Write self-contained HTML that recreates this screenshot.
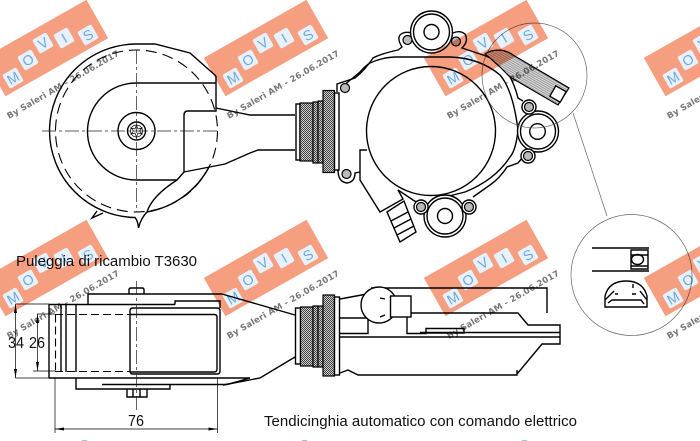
<!DOCTYPE html>
<html><head><meta charset="utf-8"><style>
html,body{margin:0;padding:0;background:#fff}
svg{display:block}
.l{fill:none;stroke:#000;stroke-width:1.4}
.w{fill:#fff;stroke:#000;stroke-width:1.4}
.t{fill:none;stroke:#000;stroke-width:.7}
.g{fill:none;stroke:#666;stroke-width:.7}
.d{fill:none;stroke:#000;stroke-width:1.1;stroke-dasharray:11 6}
.c{fill:none;stroke:#222;stroke-width:.7;stroke-dasharray:14 3 3 3}
.h{fill:url(#chk);stroke:#000;stroke-width:1.2}
.b{fill:#bbb;stroke:#000;stroke-width:1.2}
.lab{font-family:"Liberation Sans",sans-serif;font-size:15px;fill:#111}
.dim{font-family:"Liberation Sans",sans-serif;font-size:16px;fill:#111}
.bn{fill:#f59e80}
.tl{fill:#e6f1fb}
.lt{font-family:"Liberation Sans",sans-serif;font-size:14px;fill:#6fa8dc;text-anchor:middle}
.by{font-family:"DejaVu Sans",sans-serif;font-size:8.5px;font-weight:bold;fill:#777}
</style></head><body>
<svg width="700" height="441" viewBox="0 0 700 441" xmlns="http://www.w3.org/2000/svg">
<defs>
<pattern id="chk" width="2" height="2" patternUnits="userSpaceOnUse"><rect width="2" height="2" fill="#ccc"/><rect width="1" height="1" fill="#444"/><rect x="1" y="1" width="1" height="1" fill="#444"/></pattern>
<pattern id="ds" width="2" height="2" patternUnits="userSpaceOnUse" patternTransform="rotate(30)"><rect width="2" height="2" fill="#ddd"/><rect width="2" height="1" fill="#999"/></pattern>
</defs>

<!-- pulley -->
<path class="l" d="M216 76 L190 53 L155 44 L136 44 A87 87 0 0 0 49.500 131 A87 87 0 0 0 135 217.500 Q138 221 138.500 228 Q141 218 147 212 A87 87 0 0 0 209 167"/>
<path class="l" d="M147 212 Q152 196 177 180"/>
<path class="l" d="M97 211 L92 218 L103 213"/>
<circle class="d" cx="136.500" cy="131" r="81"/>
<path class="l" d="M216 83 H136 A48.500 48.500 0 0 0 136 180 H177 L184 172 V115 Q184 111 188 111 H216 V76"/>
<path class="l" d="M216 108 L250 115 H295 M184 172 L225 164 L250 153 L258 150 H295"/>
<circle class="l" cx="136.500" cy="131" r="18.500"/>
<circle class="l" cx="136.500" cy="131" r="9"/>
<circle class="t" cx="136.500" cy="131" r="6"/>
<path class="t" d="M136.500 125 L138 129 L142 128 L139.500 131 L142 134 L138 133 L136.500 137 L135 133 L131 134 L133.500 131 L131 128 L135 129 Z"/>
<path class="c" d="M42 131 H220 M136.500 50 V212"/>

<!-- top collar -->
<rect class="w" x="296" y="104" width="4" height="56"/>
<rect class="h" x="300" y="103" width="13" height="58"/>
<rect class="h" x="313" y="102" width="5" height="61"/>
<rect class="h" x="318" y="101" width="5" height="62"/>
<rect class="h" x="323" y="90.500" width="11.500" height="82"/>
<rect class="w" x="334.500" y="93" width="4.500" height="77"/>

<!-- housing -->
<circle class="l" cx="431" cy="131" r="64.500"/>
<path class="l" d="M337 92 L337 84 L355 78 Q365 70 373 58 Q380 54 398 50 L402 47 Q397 39 400 35 Q404 31 412 33"/>
<path class="l" d="M343 86 L360 72 Q365 66 370 63 Q383 57 397 57 H450 Q480 58 500 75 Q513 90 518 130 Q516 150 510 157 Q495 180 465 192 L445 197"/>
<path class="l" d="M453 33 Q460 30 465 34 Q469 41 462 48 L483 55 Q497 60 505 68 Q514 82 518 98 L523 101"/>
<path class="l" d="M523 157 L518 163 L507 167 Q500 178 490 185 L473 197"/>
<path class="l" d="M338 170 Q338 182 347 183 Q355 182 355 173 L360 172"/>
<path class="l" d="M398 190 L413 200 L418 203"/>
<circle class="w" cx="431.500" cy="32" r="21"/>
<circle class="l" cx="431.500" cy="32" r="18"/>
<circle class="l" cx="431.500" cy="32" r="7.500"/>
<circle class="b" cx="407.500" cy="40" r="4.500"/>
<circle class="b" cx="456" cy="41.500" r="4.500"/>
<circle class="b" cx="345" cy="88" r="4.500"/>
<circle class="b" cx="346.500" cy="174" r="4.500"/>
<circle class="w" cx="538" cy="131.500" r="20.500"/>
<circle class="l" cx="538" cy="131.500" r="17.500"/>
<circle class="l" cx="537.500" cy="131.500" r="7.800"/>
<circle class="w" cx="529" cy="107" r="7"/>
<circle class="b" cx="529" cy="107" r="4.500"/>
<circle class="w" cx="528" cy="156" r="7"/>
<circle class="b" cx="528" cy="156" r="4.500"/>
<circle class="w" cx="445" cy="216" r="21"/>
<circle class="l" cx="445" cy="216" r="18"/>
<circle class="l" cx="445" cy="216" r="7.500"/>
<circle class="w" cx="421" cy="207" r="7"/>
<circle class="b" cx="421" cy="207" r="4.500"/>
<circle class="w" cx="469" cy="207" r="7"/>
<circle class="b" cx="469" cy="207" r="4.500"/>
<path class="l" d="M367 150 H360 V180 L380 212 L403 199 L398 190"/>
<path class="l" d="M387 212 L404 201 L416 232 L400 242 Z M391 221 L408 212 M394 228 L411 219 M397 235 L414 226"/>

<!-- detail circle -->
<circle class="g" cx="534.500" cy="75.500" r="52.500"/>
<path class="g" d="M573 113 L607 216"/>
<circle class="g" cx="631.500" cy="275" r="60.500"/>
<path fill="url(#ds)" stroke="#000" stroke-width="1.200" d="M485 54 Q490 50 500 50 Q508 51 513 55 L569 88 L558 105 L510 77 L500 67 L490 58 Z"/>
<rect class="w" x="-6" y="-6" width="12" height="12" transform="translate(558 94) rotate(30)"/>

<!-- lower detail -->
<path class="l" d="M592 248 H649 M592 271 H649 M631 250 H648 V269 H631 Z M631 252 V267 M631 255 H648 M631 266 H648"/>
<ellipse class="l" cx="637.500" cy="259.500" rx="6" ry="5"/>
<path class="l" d="M605 307 V296 Q609 281 626 281 Q643 281 647 296 V307 Z M605 300 L614 291 M647 300 L640 291 M608 303 L612 300 H641 L644 304 M606 307 H646 M615 294 H618 M632 294 H636 M633 284 V288"/>

<!-- front view -->
<path class="l" d="M49 304.500 H175 M49 304.500 V378 M88 304.500 V294 H222 M175 304.500 V301 H220 V308"/>
<path class="l" d="M61 304.500 V372 M66 304.500 V372 M76 304.500 V372"/>
<path class="l" d="M133 308 H217 Q220 308 220 311 V371 Q220 374 217 374 H133 Q130 374 130 371 V311 Q130 308 133 308 Z"/>
<path class="l" d="M130 314.500 H214 Q217 314.500 217 317 V369 Q217 372 214 372 H130"/>
<path class="d" d="M55 314.500 H130 M55 371.500 H130 M55.500 314.500 V371.500" style="stroke-dasharray:8 4"/>
<path class="l" d="M49 378 H250 M76 378 V389 H170 V385 M102 384.500 H227 L250 378"/>
<path class="l" d="M129 294 V290 Q129 288 131 288 H142 Q144 288 144 290 V294 M127 389 V397 H147 V389 M133 389 V397 M140 389 V397"/>
<path class="c" d="M136.500 281 V410"/>

<!-- dims -->
<path class="t" d="M55 378 V433 M217.500 378 V433 M55 429 H217.500 M15.500 304 H49 M15.500 378 H49 M33 371 H55 M37 314 H55 M37.500 314 V371 M15.500 304 V378"/>
<path d="M55 429 l9 -1.500 v3 Z M217.500 429 l-9 -1.500 v3 Z M15.500 304 l-1.500 9 h3 Z M15.500 378 l-1.500 -9 h3 Z M37.500 371 l-1.500 -9 h3 Z M37.500 314 l-1.500 9 h3 Z" fill="#000"/>
<text class="dim" x="8" y="348" textLength="16" lengthAdjust="spacingAndGlyphs">34</text>
<text class="dim" x="29" y="348" textLength="16" lengthAdjust="spacingAndGlyphs">26</text>
<text class="dim" x="128" y="426" textLength="16" lengthAdjust="spacingAndGlyphs">76</text>
<text class="lab" x="16" y="266" textLength="181">Puleggia di ricambio T3630</text>
<text class="lab" x="264" y="426" textLength="313">Tendicinghia automatico con comando elettrico</text>

<!-- right body -->
<path class="l" d="M222 294 L295 315 M223 385 L260 378 L295 357"/>
<rect class="w" x="295.500" y="308" width="5" height="56"/>
<rect class="h" x="300.500" y="307" width="12.500" height="59"/>
<rect class="h" x="313" y="306" width="5" height="61"/>
<rect class="h" x="318" y="306" width="5" height="61"/>
<rect class="h" x="323" y="295" width="11.500" height="81"/>
<rect class="w" x="334.500" y="297" width="5" height="78"/>
<path class="l" d="M340 299 L367 294 M371 288 H547 V313 M340 318 H368 V333.500 H340 M340 337 H560 M407 317 V333.500 H426 V328.500 H464 V333 H426 M411 313 H518 L528 325 H560 V344 H542 L517 374 V375 H358 L348 370 L340 373 M420 332.500 H560 M517 370 V375"/>
<circle class="w" cx="379" cy="305" r="18"/>
<path class="l" d="M380 298 L385 299 M380 317 L385 315"/>
<rect class="w" x="390.500" y="296" width="20.500" height="21"/>

<!-- watermarks -->
<g style="mix-blend-mode:multiply">
<g transform="translate(0 0)">
<rect class="bn" x="-59" y="-22" width="118" height="44" transform="translate(46 48) rotate(-29.500)"/>
<g transform="translate(13 78) rotate(-30)"><rect class="tl" x="-8" y="-8" width="16" height="16" rx="2"/><text class="lt" y="5">M</text></g>
<g transform="translate(28 60) rotate(-30)"><rect class="tl" x="-8" y="-8" width="16" height="16" rx="2"/><text class="lt" y="5">O</text></g>
<g transform="translate(43 43) rotate(-30)"><rect class="tl" x="-8" y="-8" width="16" height="16" rx="2"/><text class="lt" y="5">V</text></g>
<g transform="translate(64 38) rotate(-30)"><rect class="tl" x="-8" y="-8" width="16" height="16" rx="2"/><text class="lt" y="5">I</text></g>
<g transform="translate(88 35) rotate(-30)"><rect class="tl" x="-8" y="-8" width="16" height="16" rx="2"/><text class="lt" y="5">S</text></g>
<text class="by" transform="translate(9 119) rotate(-30)" textLength="128">By Saleri AM - 26.06.2017</text>
</g>
<g transform="translate(220 0)">
<rect class="bn" x="-59" y="-22" width="118" height="44" transform="translate(46 48) rotate(-29.500)"/>
<g transform="translate(13 78) rotate(-30)"><rect class="tl" x="-8" y="-8" width="16" height="16" rx="2"/><text class="lt" y="5">M</text></g>
<g transform="translate(28 60) rotate(-30)"><rect class="tl" x="-8" y="-8" width="16" height="16" rx="2"/><text class="lt" y="5">O</text></g>
<g transform="translate(43 43) rotate(-30)"><rect class="tl" x="-8" y="-8" width="16" height="16" rx="2"/><text class="lt" y="5">V</text></g>
<g transform="translate(64 38) rotate(-30)"><rect class="tl" x="-8" y="-8" width="16" height="16" rx="2"/><text class="lt" y="5">I</text></g>
<g transform="translate(88 35) rotate(-30)"><rect class="tl" x="-8" y="-8" width="16" height="16" rx="2"/><text class="lt" y="5">S</text></g>
<text class="by" transform="translate(9 119) rotate(-30)" textLength="128">By Saleri AM - 26.06.2017</text>
</g>
<g transform="translate(440 0)">
<rect class="bn" x="-59" y="-22" width="118" height="44" transform="translate(46 48) rotate(-29.500)"/>
<g transform="translate(13 78) rotate(-30)"><rect class="tl" x="-8" y="-8" width="16" height="16" rx="2"/><text class="lt" y="5">M</text></g>
<g transform="translate(28 60) rotate(-30)"><rect class="tl" x="-8" y="-8" width="16" height="16" rx="2"/><text class="lt" y="5">O</text></g>
<g transform="translate(43 43) rotate(-30)"><rect class="tl" x="-8" y="-8" width="16" height="16" rx="2"/><text class="lt" y="5">V</text></g>
<g transform="translate(64 38) rotate(-30)"><rect class="tl" x="-8" y="-8" width="16" height="16" rx="2"/><text class="lt" y="5">I</text></g>
<g transform="translate(88 35) rotate(-30)"><rect class="tl" x="-8" y="-8" width="16" height="16" rx="2"/><text class="lt" y="5">S</text></g>
<text class="by" transform="translate(9 119) rotate(-30)" textLength="128">By Saleri AM - 26.06.2017</text>
</g>
<g transform="translate(660 0)">
<rect class="bn" x="-59" y="-22" width="118" height="44" transform="translate(46 48) rotate(-29.500)"/>
<g transform="translate(13 78) rotate(-30)"><rect class="tl" x="-8" y="-8" width="16" height="16" rx="2"/><text class="lt" y="5">M</text></g>
<g transform="translate(28 60) rotate(-30)"><rect class="tl" x="-8" y="-8" width="16" height="16" rx="2"/><text class="lt" y="5">O</text></g>
<g transform="translate(43 43) rotate(-30)"><rect class="tl" x="-8" y="-8" width="16" height="16" rx="2"/><text class="lt" y="5">V</text></g>
<text class="by" transform="translate(9 119) rotate(-30)" textLength="128">By Saleri AM - 26.06.2017</text>
</g>
<g transform="translate(0 220)">
<rect class="bn" x="-59" y="-22" width="118" height="44" transform="translate(46 48) rotate(-29.500)"/>
<g transform="translate(13 78) rotate(-30)"><rect class="tl" x="-8" y="-8" width="16" height="16" rx="2"/><text class="lt" y="5">M</text></g>
<g transform="translate(28 60) rotate(-30)"><rect class="tl" x="-8" y="-8" width="16" height="16" rx="2"/><text class="lt" y="5">O</text></g>
<g transform="translate(43 43) rotate(-30)"><rect class="tl" x="-8" y="-8" width="16" height="16" rx="2"/><text class="lt" y="5">V</text></g>
<g transform="translate(64 38) rotate(-30)"><rect class="tl" x="-8" y="-8" width="16" height="16" rx="2"/><text class="lt" y="5">I</text></g>
<g transform="translate(88 35) rotate(-30)"><rect class="tl" x="-8" y="-8" width="16" height="16" rx="2"/><text class="lt" y="5">S</text></g>
<text class="by" transform="translate(9 119) rotate(-30)" textLength="128">By Saleri AM - 26.06.2017</text>
</g>
<g transform="translate(220 220)">
<rect class="bn" x="-59" y="-22" width="118" height="44" transform="translate(46 48) rotate(-29.500)"/>
<g transform="translate(13 78) rotate(-30)"><rect class="tl" x="-8" y="-8" width="16" height="16" rx="2"/><text class="lt" y="5">M</text></g>
<g transform="translate(28 60) rotate(-30)"><rect class="tl" x="-8" y="-8" width="16" height="16" rx="2"/><text class="lt" y="5">O</text></g>
<g transform="translate(43 43) rotate(-30)"><rect class="tl" x="-8" y="-8" width="16" height="16" rx="2"/><text class="lt" y="5">V</text></g>
<g transform="translate(64 38) rotate(-30)"><rect class="tl" x="-8" y="-8" width="16" height="16" rx="2"/><text class="lt" y="5">I</text></g>
<g transform="translate(88 35) rotate(-30)"><rect class="tl" x="-8" y="-8" width="16" height="16" rx="2"/><text class="lt" y="5">S</text></g>
<text class="by" transform="translate(9 119) rotate(-30)" textLength="128">By Saleri AM - 26.06.2017</text>
</g>
<g transform="translate(440 220)">
<rect class="bn" x="-59" y="-22" width="118" height="44" transform="translate(46 48) rotate(-29.500)"/>
<g transform="translate(13 78) rotate(-30)"><rect class="tl" x="-8" y="-8" width="16" height="16" rx="2"/><text class="lt" y="5">M</text></g>
<g transform="translate(28 60) rotate(-30)"><rect class="tl" x="-8" y="-8" width="16" height="16" rx="2"/><text class="lt" y="5">O</text></g>
<g transform="translate(43 43) rotate(-30)"><rect class="tl" x="-8" y="-8" width="16" height="16" rx="2"/><text class="lt" y="5">V</text></g>
<g transform="translate(64 38) rotate(-30)"><rect class="tl" x="-8" y="-8" width="16" height="16" rx="2"/><text class="lt" y="5">I</text></g>
<g transform="translate(88 35) rotate(-30)"><rect class="tl" x="-8" y="-8" width="16" height="16" rx="2"/><text class="lt" y="5">S</text></g>
<text class="by" transform="translate(9 119) rotate(-30)" textLength="128">By Saleri AM - 26.06.2017</text>
</g>
<g transform="translate(660 220)">
<rect class="bn" x="-59" y="-22" width="118" height="44" transform="translate(46 48) rotate(-29.500)"/>
<g transform="translate(13 78) rotate(-30)"><rect class="tl" x="-8" y="-8" width="16" height="16" rx="2"/><text class="lt" y="5">M</text></g>
<g transform="translate(28 60) rotate(-30)"><rect class="tl" x="-8" y="-8" width="16" height="16" rx="2"/><text class="lt" y="5">O</text></g>
<g transform="translate(43 43) rotate(-30)"><rect class="tl" x="-8" y="-8" width="16" height="16" rx="2"/><text class="lt" y="5">V</text></g>
<text class="by" transform="translate(9 119) rotate(-30)" textLength="128">By Saleri AM - 26.06.2017</text>
</g>
<path d="M82 440.500 h5 M302 440.500 h5 M522 440.500 h5" stroke="#9cc3e6" stroke-width="1"/>
</g>
</svg>
</body></html>
